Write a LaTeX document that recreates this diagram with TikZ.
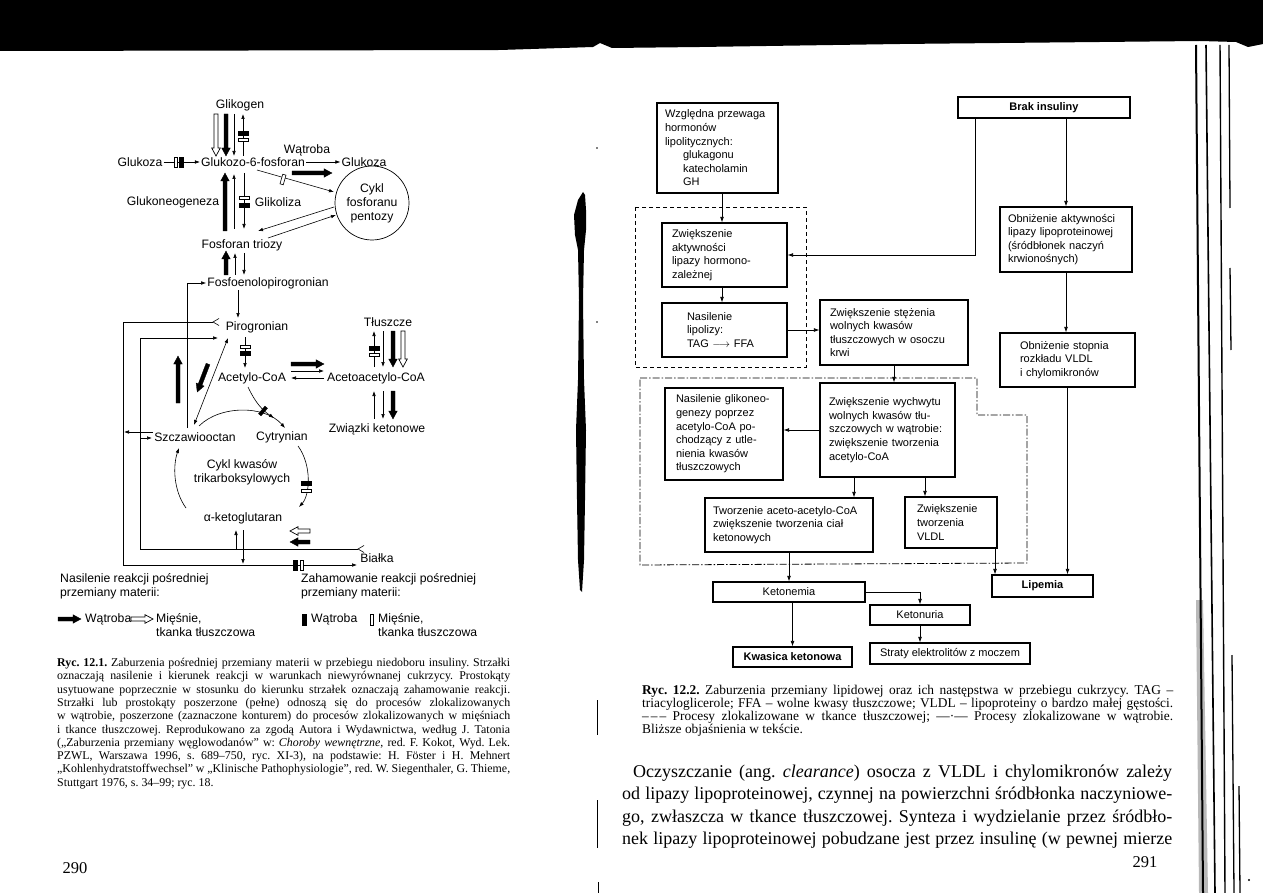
\documentclass[tikz,border=0pt]{standalone}
\usepackage{fontspec}
\setmainfont{Liberation Serif}
\newfontfamily\sansf{Liberation Sans}
\usetikzlibrary{arrows.meta,calc}
\frenchspacing
\newcommand\lfont{\sansf\fontsize{12.2}{14}\selectfont}
\newcommand\rfont{\sansf\fontsize{11}{13.6}\selectfont}
\newcommand\capfont{\fontsize{11.9}{13.3}\selectfont\spaceskip=0.25em plus 0.4em minus 0.1em}
\newcommand\rcapfont{\fontsize{13.4}{13}\selectfont\spaceskip=0.25em plus 0.4em minus 0.1em}
\newcommand\bodyfont{\fontsize{18}{22.5}\selectfont}
\newcommand\pnfont{\fontsize{16.5}{17}\selectfont}
\newcommand\fatarrow[5][fatfull]{%
  \begin{scope}[shift={(#2,#3)},rotate=#4]
    \filldraw[#1] (0,-2) -- ({#5-8},-2) -- ({#5-8},-4.3) -- (#5,0) -- ({#5-8},4.3) -- ({#5-8},2) -- (0,2) -- cycle;
  \end{scope}}
\newcommand\inhbar[4][inhfull]{%
  \begin{scope}[shift={(#2,#3)},rotate=#4]
    \filldraw[#1] (-5,-1.7) rectangle (5,1.7);
  \end{scope}}
\newcommand\jl[2]{\hbox to #1pt{#2}}
\tikzset{
  tar/.style={line width=0.6pt, -{Latex[length=5pt,width=3.6pt]}},
  tln/.style={line width=0.6pt},
  fatfull/.style={fill=black, draw=black, line width=0.3pt},
  fathollow/.style={fill=white, draw=black, line width=0.7pt},
  inhfull/.style={fill=black, draw=black, line width=0.3pt},
  inhhollow/.style={fill=white, draw=black, line width=0.6pt},
  lt/.style={font=\lfont, inner sep=1pt},
  bx/.style={draw, line width=1.1pt, font=\rfont, align=left, inner ysep=2pt},
  bxc/.style={draw, line width=1.1pt, font=\rfont, align=center, inner sep=0pt},
  rar/.style={line width=0.7pt, -{Latex[length=5.5pt,width=3.8pt]}},
  capl/.style={anchor=base west, inner sep=0pt, font=\capfont},
  rcapl/.style={anchor=base west, inner sep=0pt, font=\rcapfont},
  bodyl/.style={anchor=base west, inner sep=0pt, font=\bodyfont},
}
\begin{document}
\begin{tikzpicture}[x=1pt,y=-1pt]
\useasboundingbox (0,0) rectangle (1263,893);
\fill[white] (0,0) rectangle (1263,893);
% ---- scan artefacts ----
\fill[black] (0,0) -- (1263,0) -- (1263,44) -- (1248,47) -- (1236,42) -- (1200,41) -- (900,44) -- (700,47) -- (612,48) -- (600,43) -- (593,47) -- (500,50) -- (0,51) -- cycle;
\fill[gray!55] (1196,600) -- (1203,600) -- (1208,893) -- (1199,893) -- cycle;
\draw[line width=2pt] (1196,45) -- (1203,893);
\draw[line width=1.6pt] (1206,45) -- (1215,893);
\draw[line width=1.4pt] (1220,45) -- (1225,893);
\draw[line width=1.3pt] (1229,45) -- (1230,208);
\draw[line width=1.3pt] (1230,268) -- (1231,350);
\draw[line width=1.3pt] (1232,655) -- (1234,893);
\draw[line width=1.3pt] (1239,786) -- (1240,893);
\fill (1249,880) circle (1.2);
\fill[black] (583,192) -- (578,200) -- (574,215) -- (575,235) -- (578,250) -- (579,300) -- (578,380) -- (576,430) -- (577,500) -- (578,560) -- (580,590) -- (582,592) -- (584,560) -- (585,500) -- (586,430) -- (584,380) -- (583,300) -- (584,250) -- (586,230) -- (586,210) -- (585,195) -- cycle;
\fill (597,148) circle (0.9);
\fill (597,322) circle (0.9);
\draw[line width=1pt] (597,700) -- (597,735);
\draw[line width=1pt] (597,800) -- (597,848);
\draw[line width=1pt] (598,882) -- (598,893);

% ================= LEFT DIAGRAM =================
\node[lt] (glik) at (240,105) {Glikogen};
\node[lt] (gluL) at (140,162) {Glukoza};
\node[lt] (g6p) at (253,162) {Glukozo-6-fosforan};
\node[lt] (watr) at (307,150) {Wątroba};
\node[lt] (gluR) at (364,162) {Glukoza};
\node[draw, circle, minimum size=74pt, line width=0.7pt, align=center, font=\lfont, inner sep=0pt] (cykl) at (372,203) {Cykl\\fosforanu\\pentozy};
\node[lt] (gneo) at (173,202) {Glukoneogeneza};
\node[lt] (glikol) at (278,202) {Glikoliza};
\node[lt] (ftri) at (242,245) {Fosforan triozy};
\node[lt] (fosfo) at (268,283) {Fosfoenolopirogronian};
\node[lt] (piro) at (257,327) {Pirogronian};
\node[lt] (tlu) at (388,322) {Tłuszcze};
\node[lt] (acoa) at (252,378) {Acetylo-CoA};
\node[lt] (acac) at (376,378) {Acetoacetylo-CoA};
\node[lt] (zwk) at (377,429) {Związki ketonowe};
\node[lt] (szcz) at (195,437) {Szczawiooctan};
\node[lt] (cytr) at (282,437) {Cytrynian};
\node[lt, align=center] (tca) at (242,472) {Cykl kwasów\\trikarboksylowych};
\node[lt] (aket) at (243,518) {α-ketoglutaran};
\node[lt] (bial) at (377,558) {Białka};

% Glikogen <-> G6P
\fatarrow[fathollow]{216}{114}{-90}{42}
\fatarrow{226}{114}{-90}{42}
\draw[tar] (234,114) -- (234,156);
\draw[tar] (243,156) -- (243,114);
\inhbar{243}{133}{0}
\inhbar[inhhollow]{243}{140}{0}
% Glukoza -> G6P
\draw[tar] (gluL.east) -- (g6p.west);
\inhbar[inhhollow]{176}{162}{90}
\inhbar{181}{162}{90}
% G6P -> Glukoza
\draw[tar] (g6p.east) -- (gluR.west);
\fatarrow{292}{173}{0}{40}
% G6P -> pentose cycle
\draw[tar] (257,170) -- (334,192);
\inhbar[inhhollow]{283}{179.5}{74}
\draw[tar] (334,207) -- (258,231);
\draw[tar] (268,238) -- (336,215);
% G6P <-> Fosforan triozy
\fatarrow{225}{231}{90}{58}
\draw[tar] (234,229) -- (234,174);
\draw[tar] (244,173) -- (244,229);
\inhbar[inhhollow]{244}{198}{0}
\inhbar{244}{205}{0}
% Fosforan triozy <-> PEP
\fatarrow{226}{275}{90}{24}
\draw[tar] (235,275) -- (235,253);
\draw[tar] (244,253) -- (244,275);
% PEP -> Pirogronian
\draw[tar] (238,290) -- (238,318);
% Pirogronian -> Acetylo-CoA
\draw[tar] (245,337) -- (245,368);
\inhbar[inhhollow]{245}{347}{0}
\inhbar{245}{353}{0}
% Acetylo-CoA <-> Acetoacetylo-CoA
\fatarrow{291}{364}{0}{33}
\draw[tar] (291,371) -- (324,371);
\draw[tar] (324,378) -- (291,378);
% Tluszcze <-> Acetoacetylo-CoA
\draw[tar] (374,367) -- (374,331);
\inhbar{374}{348}{0}
\inhbar[inhhollow]{374}{355}{0}
\draw[tar] (383,331) -- (383,367);
\fatarrow{393}{331}{-90}{36}
\fatarrow[fathollow]{403}{331}{-90}{36}
% Acetoacetylo-CoA <-> Zwiazki ketonowe
\draw[tar] (374,419) -- (374,391);
\draw[tar] (383,391) -- (383,419);
\fatarrow{393}{391}{-90}{28}
% Szczawiooctan <-> Pirogronian
\fatarrow{178}{403}{90}{47}
\fatarrow{208}{364}{-111}{30}
\draw[line width=0.6pt, {Latex[length=5pt,width=3.6pt]}-{Latex[length=5pt,width=3.6pt]}] (228,338) -- (194,425);
% Szczawiooctan -> PEP
\draw[tar] (187,428) -- (187,283) -- (fosfo.west);
% outer loop
\draw[tar] (213,322) -- (123,322) -- (123,565) -- (357,565);
\draw[tln] (219,318.5) -- (213,322) -- (219,325.5);
\inhbar{295}{565}{90}
\inhbar[inhhollow]{302}{565}{90}
\draw[tar] (szcz.west |- 0,432) -- (124,432);
% inner loop
\draw[tar] (358,549) -- (140,549) -- (140,338) -- (218,338);
\draw[tln] (364,545.5) -- (358,549) -- (364,552.5);
\draw[tar] (140,438) -- (152,438);
% alpha-ketoglutaran
\draw[tar] (236,549) -- (236,530);
\draw[tar] (243,530) -- (243,564);
\fatarrow[fathollow]{310}{531}{180}{20}
\fatarrow{310}{542}{180}{20}
% citric acid cycle
\draw[tar] (248,387) .. controls (255,402) and (262,410) .. (274,418);
\inhbar{263}{411}{50}
\draw[tar] (199,426) .. controls (220,405) and (265,405) .. (285,428);
\draw[tar] (298,446) .. controls (312,465) and (310,495) .. (299,507);
\inhbar{306}{483}{0}
\inhbar[inhhollow]{306}{491}{0}
\draw[tar] (186,508) .. controls (173,490) and (173,465) .. (179,448);

% legend
\node[lt, anchor=west] (l1) at (59,579) {Nasilenie reakcji pośredniej};
\node[lt, anchor=west] (l2) at (59,593) {przemiany materii:};
\node[lt, anchor=west] (l3) at (300,579) {Zahamowanie reakcji pośredniej};
\node[lt, anchor=west] (l4) at (300,593) {przemiany materii:};
\fatarrow{58}{619}{0}{23}
\node[lt, anchor=west] (l5) at (84,619) {Wątroba};
\fatarrow[fathollow]{131}{619}{0}{22}
\node[lt, anchor=west] (l6) at (155,619) {Mięśnie,};
\node[lt, anchor=west] (l7) at (155,632) {tkanka tłuszczowa};
\filldraw (302,614) rectangle (306,625);
\node[lt, anchor=west] (l8) at (310,619) {Wątroba};
\draw[line width=0.6pt] (370,614) rectangle (373.5,625);
\node[lt, anchor=west] (l9) at (377,619) {Mięśnie,};
\node[lt, anchor=west] (l10) at (377,632) {tkanka tłuszczowa};

% caption left
\node[capl] (c1) at (57,666.5) {\jl{453}{\textbf{Ryc. 12.1.} Zaburzenia pośredniej przemiany materii w przebiegu niedoboru insuliny. Strzałki}};
\node[capl] (c2) at (57,679.8) {\jl{453}{oznaczają nasilenie i kierunek reakcji w warunkach niewyrównanej cukrzycy. Prostokąty}};
\node[capl] (c3) at (57,693.1) {\jl{453}{usytuowane poprzecznie w stosunku do kierunku strzałek oznaczają zahamowanie reakcji.}};
\node[capl] (c4) at (57,706.4) {\jl{453}{Strzałki lub prostokąty poszerzone (pełne) odnoszą się do procesów zlokalizowanych}};
\node[capl] (c5) at (57,719.7) {\jl{453}{w wątrobie, poszerzone (zaznaczone konturem) do procesów zlokalizowanych w mięśniach}};
\node[capl] (c6) at (57,733) {\jl{453}{i tkance tłuszczowej. Reprodukowano za zgodą Autora i Wydawnictwa, według J. Tatonia}};
\node[capl] (c7) at (57,746.3) {\jl{453}{(„Zaburzenia przemiany węglowodanów” w: \textit{Choroby wewnętrzne}, red. F. Kokot, Wyd. Lek.}};
\node[capl] (c8) at (57,759.6) {\jl{453}{PZWL, Warszawa 1996, s. 689–750, ryc. XI-3), na podstawie: H. Föster i H. Mehnert}};
\node[capl] (c9) at (57,772.9) {\jl{453}{„Kohlenhydratstoffwechsel” w „Klinische Pathophysiologie”, red. W. Siegenthaler, G. Thieme,}};
\node[capl] (c10) at (57,786.2) {Stuttgart 1976, s. 34–99; ryc. 18.};
\node[font=\pnfont, inner sep=0pt] (p290) at (75,868) {290};

% ================= RIGHT DIAGRAM =================
\draw[line width=0.7pt, dash pattern=on 4pt off 3pt] (635,207) rectangle (806,367);
\draw[line width=0.8pt, dash pattern=on 7pt off 2pt on 1.5pt off 2pt] (640,378) -- (977,378) -- (977,415) -- (1027,415) -- (1027,563) -- (640,565) -- cycle;

\node[bx, minimum width=121pt, minimum height=90pt, text width=105pt, inner xsep=8pt] (A) at (717.5,148) {Względna przewaga\\hormonów\\lipolitycznych:\\\hspace*{18pt}glukagonu\\\hspace*{18pt}katecholamin\\\hspace*{18pt}GH};
\node[bx, minimum width=125pt, minimum height=64pt, text width=105pt, inner xsep=10pt] (B) at (724.5,255) {Zwiększenie\\aktywności\\lipazy hormono-\\zależnej};
\node[bx, minimum width=125pt, minimum height=54pt, text width=75pt, inner xsep=25pt] (C) at (724.5,330) {Nasilenie\\lipolizy:\\TAG $\longrightarrow$ FFA};
\node[bx, minimum width=148pt, minimum height=65pt, text width=128pt, inner xsep=10pt] (D) at (894,332.5) {Zwiększenie stężenia\\wolnych kwasów\\tłuszczowych w osoczu\\krwi};
\node[bxc, font=\rfont\bfseries, minimum width=172pt, minimum height=21pt] (brak) at (1044,107.5) {Brak insuliny};
\node[bx, minimum width=132pt, minimum height=65pt, text width=116pt, inner xsep=8pt] (E) at (1066,239.5) {Obniżenie aktywności\\lipazy lipoproteinowej\\(śródbłonek naczyń\\krwionośnych)};
\node[bx, minimum width=135pt, minimum height=54pt, text width=95pt, inner xsep=20pt] (F) at (1067.5,360) {Obniżenie stopnia\\rozkładu VLDL\\i chylomikronów};
\node[bx, minimum width=135pt, minimum height=94pt, text width=117pt, inner xsep=9pt] (G) at (887.5,430) {Zwiększenie wychwytu\\wolnych kwasów tłu-\\szczowych w wątrobie:\\zwiększenie tworzenia\\acetylo-CoA};
\node[bx, minimum width=118pt, minimum height=92pt, text width=96pt, inner xsep=11pt] (H) at (724,434) {Nasilenie glikoneo-\\genezy poprzez\\acetylo-CoA po-\\chodzący z utle-\\nienia kwasów\\tłuszczowych};
\node[bx, minimum width=168pt, minimum height=54pt, text width=152pt, inner xsep=8pt] (I) at (789,525) {Tworzenie aceto-acetylo-CoA\\zwiększenie tworzenia ciał\\ketonowych};
\node[bx, minimum width=92pt, minimum height=51pt, text width=68pt, inner xsep=12pt] (J) at (951,522.5) {Zwiększenie\\tworzenia\\VLDL};
\node[bxc, minimum width=152pt, minimum height=20pt] (ketm) at (789,592) {Ketonemia};
\node[bxc, minimum width=100pt, minimum height=20pt] (ketu) at (920,615) {Ketonuria};
\node[bxc, font=\rfont\bfseries, minimum width=119pt, minimum height=20pt] (kwas) at (792.5,657) {Kwasica ketonowa};
\node[bxc, minimum width=160pt, minimum height=21pt] (strat) at (950,653.5) {Straty elektrolitów z moczem};
\node[bxc, font=\rfont\bfseries, minimum width=101pt, minimum height=22pt] (lip) at (1042.5,586) {Lipemia};

\draw[rar] (A.south -| 722,0) -- (B.north -| 722,0);
\draw[rar] (B.south -| 722,0) -- (C.north -| 722,0);
\draw[rar] (C.east) -- (D.west |- C.east);
\draw[rar] (975,0 |- brak.south) |- (B.east);
\draw[rar] (brak.south -| E.north) -- (E.north);
\draw[rar] (E.south) -- (E.south |- F.north);
\draw[rar] (F.south) -- (F.south |- lip.north);
\draw[rar] (D.south) -- (D.south |- G.north);
\draw[rar] (G.west) -- (H.east |- G.west);
\draw[rar] (854,0 |- G.south) -- (854,0 |- I.north);
\draw[rar] (925,0 |- G.south) -- (925,0 |- J.north);
\draw[rar] (I.south) -- (I.south |- ketm.north);
\draw[rar] (995,0 |- J.south) -- (995,0 |- lip.north);
\draw[rar] (ketm.east) -| (ketu.north);
\draw[rar] (kwas.north |- ketm.south) -- (kwas.north);
\draw[rar] (ketu.south) -- (ketu.south |- strat.north);

% caption right
\node[rcapl] (r1) at (642,694) {\jl{531}{\textbf{Ryc. 12.2.} Zaburzenia przemiany lipidowej oraz ich następstwa w przebiegu cukrzycy. TAG –}};
\node[rcapl] (r2) at (642,707) {\jl{531}{triacyloglicerole; FFA – wolne kwasy tłuszczowe; VLDL – lipoproteiny o bardzo małej gęstości.}};
\node[rcapl] (r3) at (642,720) {\jl{531}{–\kern2pt–\kern2pt– Procesy zlokalizowane w tkance tłuszczowej; —·— Procesy zlokalizowane w wątrobie.}};
\node[rcapl] (r4) at (642,733) {Bliższe objaśnienia w tekście.};

% body text right
\node[bodyl] (b1) at (633,777) {\jl{539}{Oczyszczanie (ang. \textit{clearance}) osocza z VLDL i chylomikronów zależy}};
\node[bodyl] (b2) at (622,799.5) {\jl{550}{od lipazy lipoproteinowej, czynnej na powierzchni śródbłonka naczyniowe-}};
\node[bodyl] (b3) at (622,822) {\jl{550}{go, zwłaszcza w tkance tłuszczowej. Synteza i wydzielanie przez śródbło-}};
\node[bodyl] (b4) at (622,844.5) {\jl{550}{nek lipazy lipoproteinowej pobudzane jest przez insulinę (w pewnej mierze}};
\node[font=\pnfont, inner sep=0pt] (p291) at (1145,862) {291};
\end{tikzpicture}
\end{document}
